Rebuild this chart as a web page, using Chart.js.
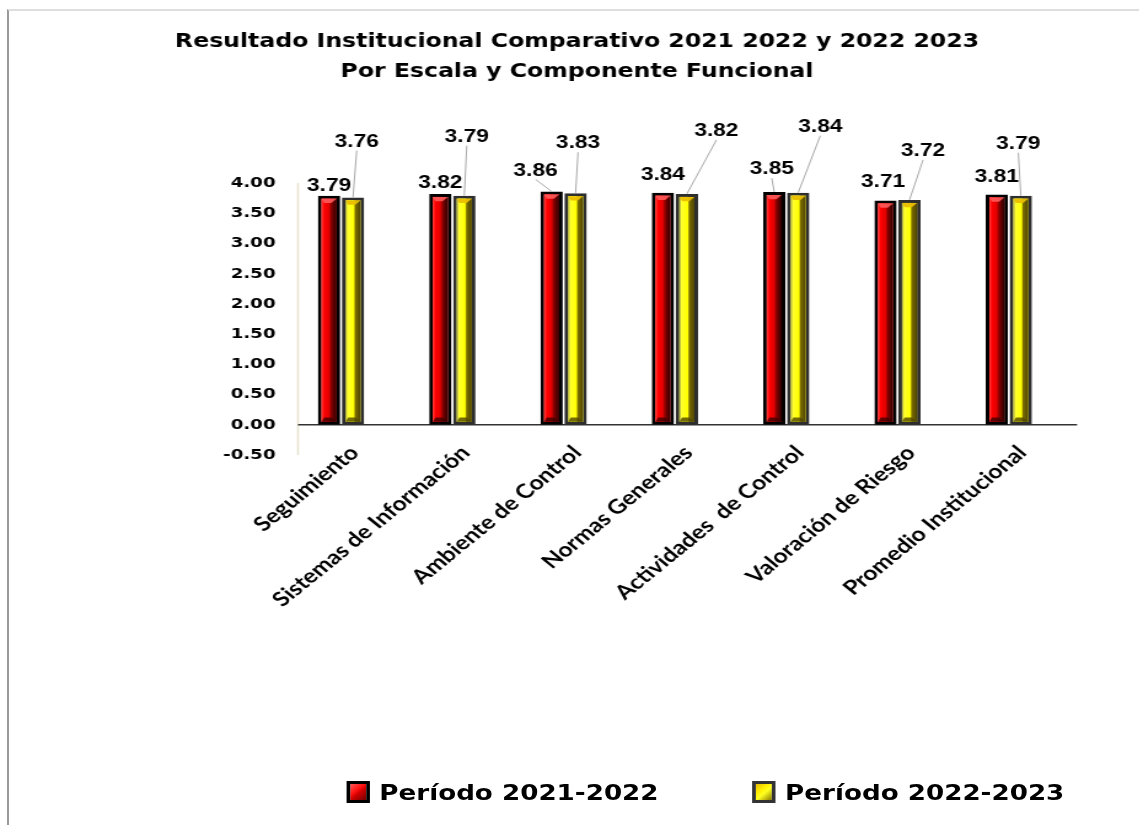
<!DOCTYPE html>
<html lang="es">
<head>
<meta charset="utf-8">
<title>Resultado Institucional Comparativo</title>
<script src="https://cdn.jsdelivr.net/npm/chart.js@4.4.1/dist/chart.umd.min.js"></script>
<style>
  html, body { margin: 0; padding: 0; background: #fff; overflow: hidden; }
  #frame {
    position: absolute; left: 7px; top: 9px; right: 0; bottom: 0;
    border-left: 2px solid #9a9a9a; border-top: 2px solid #dedede;
  }
  /* the whole chart is drawn narrow and widened horizontally */
  #stage {
    position: absolute; left: 0; top: 0; width: 927px; height: 825px;
    transform: scaleX(1.229); transform-origin: 0 0;
  }
  #legend {
    position: absolute; right: 61px; top: 779px; height: 26px;
    display: flex; align-items: center; gap: 76px;
    font: bold 21.3px "DejaVu Sans", sans-serif; color: #000;
  }
  #legend .item { display: flex; align-items: center; gap: 8px; }
  #legend .box { width: 19px; height: 22px; box-sizing: border-box; flex: none; }
  #legend .red {
    border: 3px solid #000;
    background: linear-gradient(135deg, #ff5a5a 0%, #ff1010 40%, #d00000 55%, #700000 100%);
  }
  #legend .yellow {
    border: 3px solid #333;
    background: linear-gradient(135deg, #e8b800 0%, #ffee00 35%, #ffff20 55%, #8a7c00 100%);
  }
</style>
</head>
<body>
<div id="frame"></div>
<div id="stage">
  <canvas id="chart" width="927" height="825"></canvas>
  <div id="legend">
    <div class="item"><span class="box red"></span><span>Período 2021-2022</span></div>
    <div class="item"><span class="box yellow"></span><span>Período 2022-2023</span></div>
  </div>
</div>
<script>
const categories = [
  "Seguimiento",
  "Sistemas de Información",
  "Ambiente de Control",
  "Normas Generales",
  "Actividades  de Control",
  "Valoración de Riesgo",
  "Promedio Institucional"
];
const periodo2122 = [3.79, 3.82, 3.86, 3.84, 3.85, 3.71, 3.81];
const periodo2223 = [3.76, 3.79, 3.83, 3.82, 3.84, 3.72, 3.79];
const yMin = -0.5;
const yMax = 4;
const yStep = 0.5;

// where each value label sits, relative to the top of its bar
const labelShift2122 = [[0, -10], [0, -11], [-13, -21], [0, -18], [-2, -23], [-2, -19], [0, -18]];
const labelShift2223 = [[3, -56], [2, -59], [2, -50], [24, -63], [18, -66], [11, -49], [-2, -52]];
const labelShifts = [labelShift2122, labelShift2223];

// bar faces: horizontal shading plus a lighter top bevel
const barShades = [
  {
    stops: [[0, "#ff4040"], [0.18, "#ff0000"], [0.5, "#e00000"], [0.64, "#8a0000"], [1, "#2a0000"]],
    top: "rgba(255,90,90,0.9)",
    bottom: "rgba(60,0,0,0.8)"
  },
  {
    stops: [[0, "#9a9a50"], [0.14, "#ffff30"], [0.55, "#ffff00"], [0.66, "#7a6c00"], [1, "#4e4400"]],
    top: "rgba(235,190,0,0.95)",
    bottom: "rgba(80,70,0,0.8)"
  }
];

const axisShift = 10.3; // depth offset of the value axis and the zero line

const axisLines = {
  id: "axisLines",
  beforeDatasetsDraw(chart) {
    const { ctx, chartArea, scales } = chart;
    const x0 = chartArea.left + axisShift;
    const y0 = scales.y.getPixelForValue(0);
    ctx.save();
    ctx.strokeStyle = "#e8e2ce";
    ctx.lineWidth = 1.5;
    ctx.beginPath();
    ctx.moveTo(x0, chartArea.top);
    ctx.lineTo(x0, chartArea.bottom);
    ctx.stroke();
    ctx.strokeStyle = "#333";
    ctx.lineWidth = 1.4;
    ctx.beginPath();
    ctx.moveTo(x0, y0);
    ctx.lineTo(chartArea.right + axisShift, y0);
    ctx.stroke();
    ctx.restore();
  }
};

const bevel = {
  id: "bevel",
  afterDatasetsDraw(chart) {
    const ctx = chart.ctx;
    chart.data.datasets.forEach((ds, di) => {
      const shade = barShades[di];
      const b = ds.borderWidth;
      chart.getDatasetMeta(di).data.forEach(bar => {
        const { x, y, base, width } = bar.getProps(["x", "y", "base", "width"], true);
        const l = x - width / 2 + b;
        const r = x + width / 2 - b;
        const t = y + b;
        const btm = base - b;
        const w = r - l;
        const g = ctx.createLinearGradient(l, 0, r, 0);
        shade.stops.forEach(([p, c]) => g.addColorStop(p, c));
        ctx.save();
        ctx.fillStyle = g;
        ctx.fillRect(l, t, w, btm - t);
        const bv = Math.min(5, w * 0.35);
        ctx.fillStyle = shade.top;
        ctx.beginPath();
        ctx.moveTo(l, t);
        ctx.lineTo(r, t);
        ctx.lineTo(r - bv, t + bv);
        ctx.lineTo(l + bv * 0.5, t + bv);
        ctx.closePath();
        ctx.fill();
        ctx.fillStyle = shade.bottom;
        ctx.beginPath();
        ctx.moveTo(l, btm);
        ctx.lineTo(r, btm);
        ctx.lineTo(r - bv, btm - bv);
        ctx.lineTo(l + bv * 0.5, btm - bv);
        ctx.closePath();
        ctx.fill();
        ctx.restore();
      });
    });
  }
};

const valueLabels = {
  id: "valueLabels",
  afterDatasetsDraw(chart) {
    const ctx = chart.ctx;
    ctx.save();
    ctx.font = 'bold 18.5px "Liberation Sans"';
    ctx.textAlign = "center";
    ctx.textBaseline = "middle";
    chart.data.datasets.forEach((ds, di) => {
      const shifts = labelShifts[di];
      chart.getDatasetMeta(di).data.forEach((bar, i) => {
        const [dx, dy] = shifts[i];
        const lx = bar.x + dx;
        const ly = bar.y + dy;
        if (dy < -20) {
          ctx.strokeStyle = "#a8a8a8";
          ctx.lineWidth = 1;
          ctx.beginPath();
          ctx.moveTo(lx, ly + 9);
          ctx.lineTo(bar.x, bar.y);
          ctx.stroke();
        }
        ctx.fillStyle = "#000";
        ctx.fillText(ds.data[i].toFixed(2), lx, ly);
      });
    });
    ctx.restore();
  }
};

new Chart(document.getElementById("chart"), {
  type: "bar",
  data: {
    labels: categories,
    datasets: [
      {
        label: "Período 2021-2022",
        data: periodo2122,
        backgroundColor: "#ff0000",
        borderColor: "#000",
        borderWidth: 3,
        borderSkipped: false,
        categoryPercentage: 0.431,
        barPercentage: 0.93
      },
      {
        label: "Período 2022-2023",
        data: periodo2223,
        backgroundColor: "#ffff00",
        borderColor: "#2e2e2e",
        borderWidth: 3,
        borderSkipped: false,
        categoryPercentage: 0.431,
        barPercentage: 0.93
      }
    ]
  },
  options: {
    responsive: false,
    animation: false,
    layout: { padding: { left: 72.9, right: 60.9, top: 27, bottom: 0 } },
    plugins: {
      legend: { display: false },
      tooltip: { enabled: false },
      title: {
        display: true,
        text: [
          "Resultado Institucional Comparativo 2021 2022 y 2022 2023",
          "Por Escala y Componente Funcional"
        ],
        color: "#000",
        font: { family: "DejaVu Sans", weight: "bold", size: 19.2, lineHeight: 30 / 19.2 },
        padding: { top: 0, bottom: 96 }
      }
    },
    scales: {
      x: {
        grid: { display: false, drawTicks: false },
        border: { display: false },
        ticks: {
          color: "#000",
          font: { family: "Lato", weight: "bold", size: 20 },
          maxRotation: 45,
          minRotation: 45,
          autoSkip: false,
          padding: -14,
          labelOffset: 11
        },
        afterFit: scale => {
          scale.height = 370;
          // category labels start slightly above the bottom of the plot,
          // so let them draw over the whole canvas instead of the axis box
          scale._computeLabelArea = () => ({ top: 0, left: 0, bottom: scale.chart.height, right: scale.chart.width });
        }
      },
      y: {
        min: yMin,
        max: yMax,
        grid: { display: false, drawTicks: false },
        border: { display: false },
        ticks: {
          stepSize: yStep,
          color: "#000",
          font: { family: "DejaVu Sans", weight: "bold", size: 14.8 },
          padding: 8,
          callback: v => v.toFixed(2)
        },
        afterFit: scale => { scale.width = 159.3; }
      }
    }
  },
  plugins: [axisLines, bevel, valueLabels]
});
</script>
</body>
</html>
